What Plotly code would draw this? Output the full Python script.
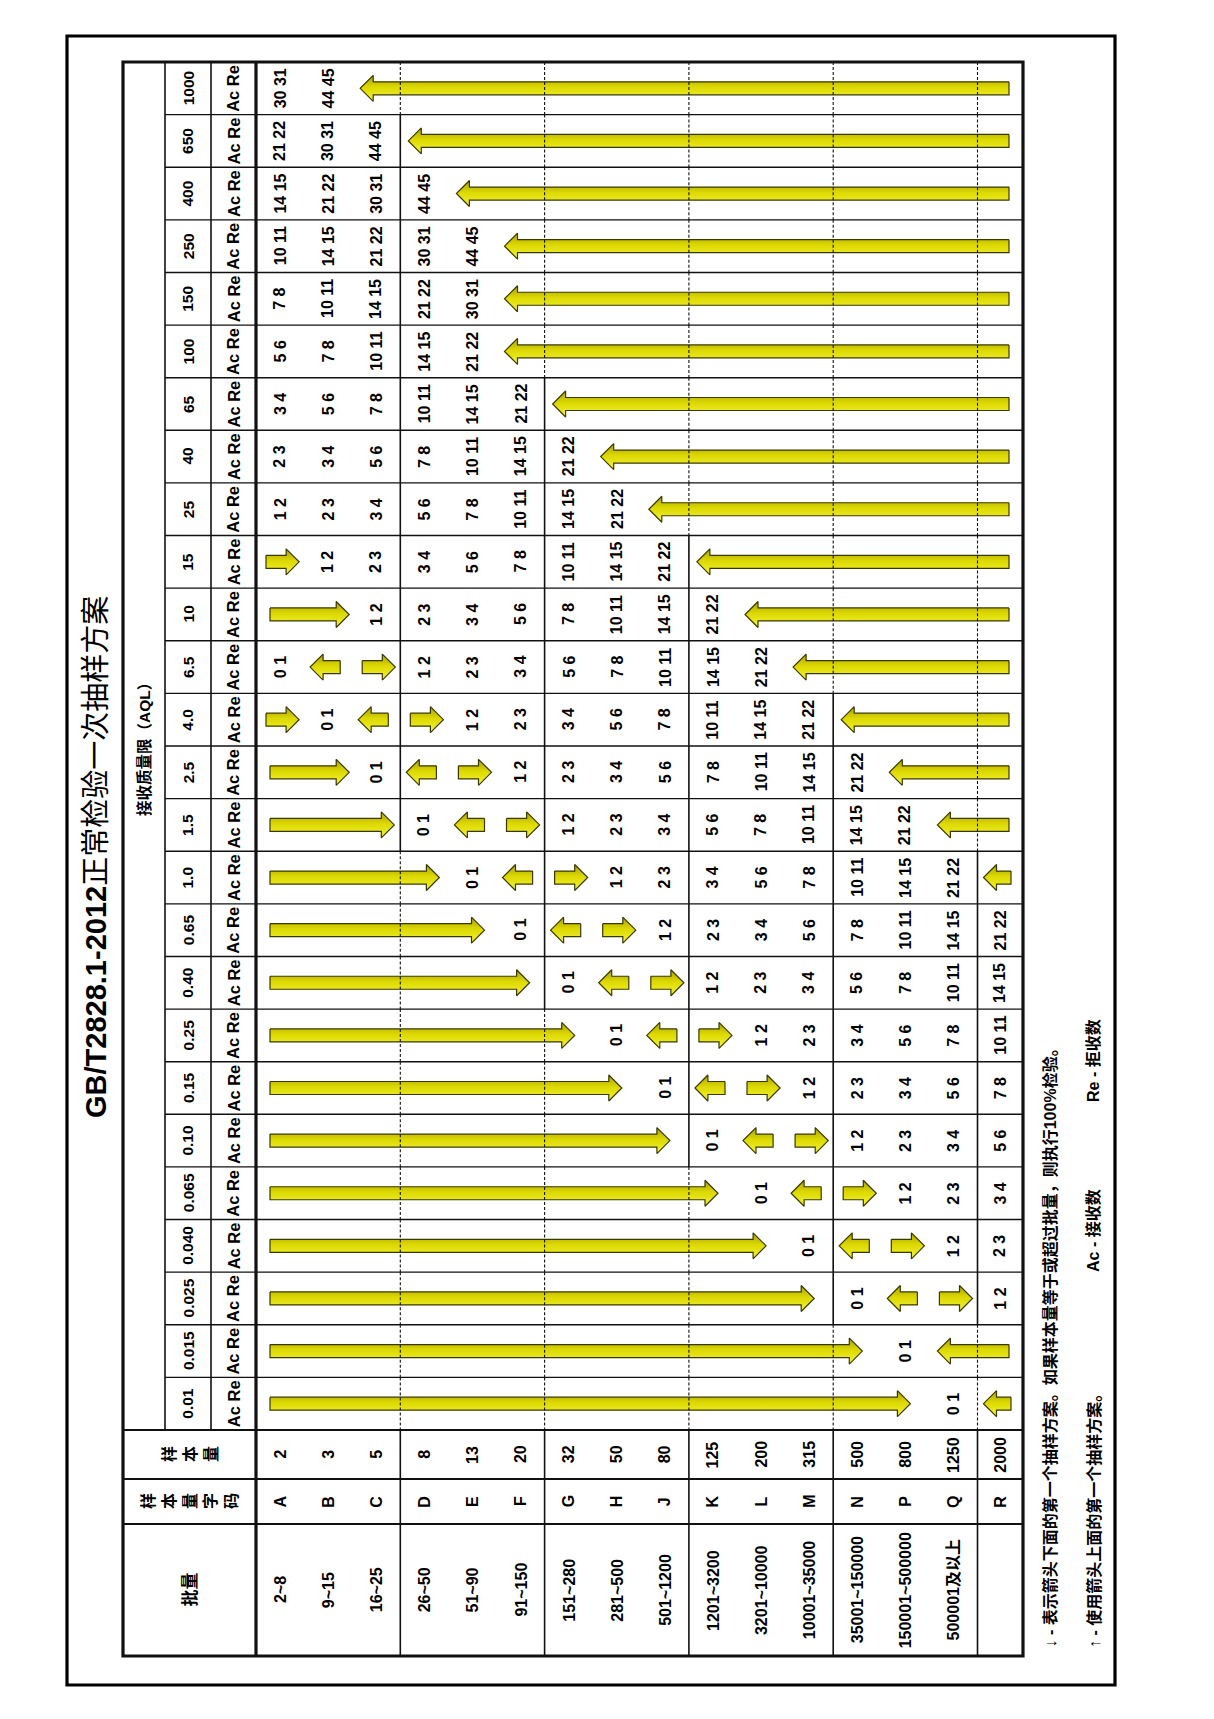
import plotly.graph_objects as go

# ---------------- data ----------------
D, U = "↓", "↑"   # ↓ = use first plan below (drawn as right arrow), ↑ = first plan above (left arrow)

aql_labels = ["0.01", "0.015", "0.025", "0.040", "0.065", "0.10", "0.15", "0.25", "0.40", "0.65",
              "1.0", "1.5", "2.5", "4.0", "6.5", "10", "15", "25", "40", "65",
              "100", "150", "250", "400", "650", "1000"]
code_letters = ["A", "B", "C", "D", "E", "F", "G", "H", "J", "K", "L", "M", "N", "P", "Q", "R"]
sample_sizes = ["2", "3", "5", "8", "13", "20", "32", "50", "80", "125", "200", "315", "500", "800", "1250", "2000"]
lot_sizes = ["2~8", "9~15", "16~25", "26~50", "51~90", "91~150", "151~280", "281~500", "501~1200",
             "1201~3200", "3201~10000", "10001~35000", "35001~150000", "150001~500000", "500001及以上", ""]

# Ac Re entries for code letters A..R, one list per AQL
aql_0_010 = [D, D, D, D, D, D, D, D, D, D, D, D, D, D, "0 1", U]
aql_0_015 = [D, D, D, D, D, D, D, D, D, D, D, D, D, "0 1", U, U]
aql_0_025 = [D, D, D, D, D, D, D, D, D, D, D, D, "0 1", U, D, "1 2"]
aql_0_040 = [D, D, D, D, D, D, D, D, D, D, D, "0 1", U, D, "1 2", "2 3"]
aql_0_065 = [D, D, D, D, D, D, D, D, D, D, "0 1", U, D, "1 2", "2 3", "3 4"]
aql_0_10 = [D, D, D, D, D, D, D, D, D, "0 1", U, D, "1 2", "2 3", "3 4", "5 6"]
aql_0_15 = [D, D, D, D, D, D, D, D, "0 1", U, D, "1 2", "2 3", "3 4", "5 6", "7 8"]
aql_0_25 = [D, D, D, D, D, D, D, "0 1", U, D, "1 2", "2 3", "3 4", "5 6", "7 8", "10 11"]
aql_0_40 = [D, D, D, D, D, D, "0 1", U, D, "1 2", "2 3", "3 4", "5 6", "7 8", "10 11", "14 15"]
aql_0_65 = [D, D, D, D, D, "0 1", U, D, "1 2", "2 3", "3 4", "5 6", "7 8", "10 11", "14 15", "21 22"]
aql_1_0 = [D, D, D, D, "0 1", U, D, "1 2", "2 3", "3 4", "5 6", "7 8", "10 11", "14 15", "21 22", U]
aql_1_5 = [D, D, D, "0 1", U, D, "1 2", "2 3", "3 4", "5 6", "7 8", "10 11", "14 15", "21 22", U, U]
aql_2_5 = [D, D, "0 1", U, D, "1 2", "2 3", "3 4", "5 6", "7 8", "10 11", "14 15", "21 22", U, U, U]
aql_4_0 = [D, "0 1", U, D, "1 2", "2 3", "3 4", "5 6", "7 8", "10 11", "14 15", "21 22", U, U, U, U]
aql_6_5 = ["0 1", U, D, "1 2", "2 3", "3 4", "5 6", "7 8", "10 11", "14 15", "21 22", U, U, U, U, U]
aql_10 = [D, D, "1 2", "2 3", "3 4", "5 6", "7 8", "10 11", "14 15", "21 22", U, U, U, U, U, U]
aql_15 = [D, "1 2", "2 3", "3 4", "5 6", "7 8", "10 11", "14 15", "21 22", U, U, U, U, U, U, U]
aql_25 = ["1 2", "2 3", "3 4", "5 6", "7 8", "10 11", "14 15", "21 22", U, U, U, U, U, U, U, U]
aql_40 = ["2 3", "3 4", "5 6", "7 8", "10 11", "14 15", "21 22", U, U, U, U, U, U, U, U, U]
aql_65 = ["3 4", "5 6", "7 8", "10 11", "14 15", "21 22", U, U, U, U, U, U, U, U, U, U]
aql_100 = ["5 6", "7 8", "10 11", "14 15", "21 22", U, U, U, U, U, U, U, U, U, U, U]
aql_150 = ["7 8", "10 11", "14 15", "21 22", "30 31", U, U, U, U, U, U, U, U, U, U, U]
aql_250 = ["10 11", "14 15", "21 22", "30 31", "44 45", U, U, U, U, U, U, U, U, U, U, U]
aql_400 = ["14 15", "21 22", "30 31", "44 45", U, U, U, U, U, U, U, U, U, U, U, U]
aql_650 = ["21 22", "30 31", "44 45", U, U, U, U, U, U, U, U, U, U, U, U, U]
aql_1000 = ["30 31", "44 45", U, U, U, U, U, U, U, U, U, U, U, U, U, U]

aql_plans = [aql_0_010, aql_0_015, aql_0_025, aql_0_040, aql_0_065, aql_0_10, aql_0_15, aql_0_25,
             aql_0_40, aql_0_65, aql_1_0, aql_1_5, aql_2_5, aql_4_0, aql_6_5, aql_10, aql_15, aql_25,
             aql_40, aql_65, aql_100, aql_150, aql_250, aql_400, aql_650, aql_1000]

# cell borders drawn dashed although no arrow crosses them
dashed_extra = [("0.01", "R")]

title_text = "<b>GB/T2828.1-2012</b>正常检验一次抽样方案"
aql_header = "接收质量限（AQL）"
note_down = "↓ - 表示箭头下面的第一个抽样方案。如果样本量等于或超过批量，则执行100%检验。"
note_up = "↑ - 使用箭头上面的第一个抽样方案。"
note_ac = "Ac - 接收数"
note_re = "Re - 拒收数"

# ---------------- layout geometry (page pixels) ----------------
W, H = 1214, 1719
X0, X_AQL, X_ACRE, X_DATA, X1 = 123, 165, 211, 256, 1023
Y0, Y_HDR, Y_N, Y_CODE, Y1 = 62, 1430, 1479, 1524, 1656
ROW_W = 48.1
NR = len(code_letters)
NA = len(aql_labels)
COL_H = (Y_HDR - Y0) / NA
row_edges = [X_DATA + ROW_W * i for i in range(NR)] + [X1]
row_mid = [(row_edges[i] + row_edges[i + 1]) / 2 for i in range(NR)]
group_starts = [3, 6, 9, 12, 15]


def col_bounds(i):
    k = NA - 1 - i
    return Y0 + COL_H * k, Y0 + COL_H * (k + 1)


FONT = "Liberation Sans, Arial, Noto Sans CJK SC, sans-serif"
INK = "#111111"
SH, HH, HL = 6.5, 13.0, 13.0

fig = go.Figure()
shapes = []
annotations = []


def line(x0, y0, x1, y1, w=1.4, dash=None):
    ln = dict(color=INK, width=w)
    if dash:
        ln["dash"] = dash
    shapes.append(dict(type="line", xref="x", yref="y", x0=x0, y0=y0, x1=x1, y1=y1, line=ln))


def label(x, y, text, size=16, bold=True, xanchor="center", yanchor="middle"):
    annotations.append(dict(
        x=x, y=y, xref="x", yref="y", showarrow=False, textangle=-90,
        text=("<b>%s</b>" % text) if bold else text,
        font=dict(family=FONT, size=size, color="#000000"),
        xanchor=xanchor, yanchor=yanchor))


def draw_arrow(s, e, kind, yc):
    start, end = row_edges[s], row_edges[e + 1]
    n = e - s + 1
    if kind == D:
        if n == 1:
            xa, xb = start + 10, end - 5
        else:
            xa, xb = start + 14, end - min(19, 3 * (n - 1))
        xs = [xa, xb - HL, xb - HL, xb, xb - HL, xb - HL, xa, xa]
    else:
        if n == 1:
            xa, xb = start + 6, end - 12
        else:
            xa, xb = start + 8, end - 14
        xs = [xb, xa + HL, xa + HL, xa, xa + HL, xa + HL, xb, xb]
    ys = [yc - SH, yc - SH, yc - HH, yc, yc + HH, yc + SH, yc + SH, yc - SH]
    fig.add_trace(go.Scatter(
        x=xs, y=ys, mode="lines", fill="toself", fillcolor="#e0dc00",
        fillgradient=dict(type="vertical",
                          colorscale=[[0, "#a9a000"], [0.45, "#dcd800"], [1, "#f4f43a"]],
                          start=yc - HH, stop=yc + HH),
        line=dict(color="#3a3800", width=1.2),
        hoverinfo="skip", showlegend=False))


# ---------------- data cells ----------------
for i, plan in enumerate(aql_plans):
    yt, yb = col_bounds(i)
    yc = (yt + yb) / 2
    r = 0
    while r < NR:
        v = plan[r]
        if v in (D, U):
            s = r
            while r + 1 < NR and plan[r + 1] == v:
                r += 1
            draw_arrow(s, r, v, yc)
        else:
            label(row_mid[r], yc, v)
        r += 1
    # header cells
    label((X_AQL + X_ACRE) / 2, yc, aql_labels[i], size=15.5)
    label((X_ACRE + X_DATA) / 2, yc, "Ac Re", size=16.5)
    # group boundaries (solid / dashed)
    for g in group_starts:
        dashed = (plan[g - 1] == plan[g] and plan[g] in (D, U)) or \
                 ((aql_labels[i], code_letters[g]) in dashed_extra)
        if dashed:
            line(row_edges[g], yt, row_edges[g], yb, w=1.1, dash="3px,2px")
        else:
            line(row_edges[g], yt, row_edges[g], yb, w=1.6)

# horizontal AQL boundaries
for k in range(1, NA):
    y = Y0 + COL_H * k
    line(X_AQL, y, X1, y, w=1.4)
line(X_AQL, Y0, X_AQL, Y_HDR, w=1.6)
line(X_ACRE, Y0, X_ACRE, Y_HDR, w=1.6)
for y in (Y_HDR, Y_N, Y_CODE):
    line(X0, y, X1, y, w=2.0)
for g in group_starts:
    line(row_edges[g], Y_HDR, row_edges[g], Y1, w=1.6)

# row headers
for r in range(NR):
    label(row_mid[r], (Y_HDR + Y_N) / 2, sample_sizes[r])
    label(row_mid[r], (Y_N + Y_CODE) / 2, code_letters[r])
    if lot_sizes[r]:
        label(row_mid[r], (Y_CODE + Y1) / 2, lot_sizes[r])

label((X0 + X_DATA) / 2, (Y_HDR + Y_N) / 2, "<br>".join("样本量"), size=16)
label((X0 + X_DATA) / 2, (Y_N + Y_CODE) / 2, "<br>".join("样本量字码"), size=16)
label((X0 + X_DATA) / 2, (Y_CODE + Y1) / 2, "批量", size=17)
label((X0 + X_AQL) / 2, (Y0 + Y_HDR) / 2, aql_header, size=15.5)

# thick table borders
line(X_DATA, Y0, X_DATA, Y1, w=3.2)
shapes.append(dict(type="rect", xref="x", yref="y", x0=X0, y0=Y0, x1=X1, y1=Y1,
                   line=dict(color=INK, width=3.2)))
# outer frame
shapes.append(dict(type="rect", xref="x", yref="y", x0=67, y0=36, x1=1115, y1=1685,
                   line=dict(color="#000000", width=3.2)))

# title and notes
annotations.append(dict(x=96, y=857, xref="x", yref="y", showarrow=False, textangle=-90,
                        text=title_text, font=dict(family=FONT, size=29, color="#000000"),
                        xanchor="center", yanchor="middle"))
label(1049, 1650, note_down, size=16, yanchor="bottom")
label(1094, 1650, note_up, size=16, yanchor="bottom")
label(1093, 1231, note_ac, size=16)
label(1093, 1061, note_re, size=16)

fig.update_layout(
    width=W, height=H, margin=dict(l=0, r=0, t=0, b=0, pad=0),
    paper_bgcolor="white", plot_bgcolor="white", showlegend=False,
    xaxis=dict(range=[0, W], visible=False, fixedrange=True),
    yaxis=dict(range=[H, 0], visible=False, fixedrange=True),
    shapes=shapes, annotations=annotations)

fig.write_html("out.html", config={"displayModeBar": False},
               post_script="document.body.style.margin='0';document.body.style.overflow='hidden';")
